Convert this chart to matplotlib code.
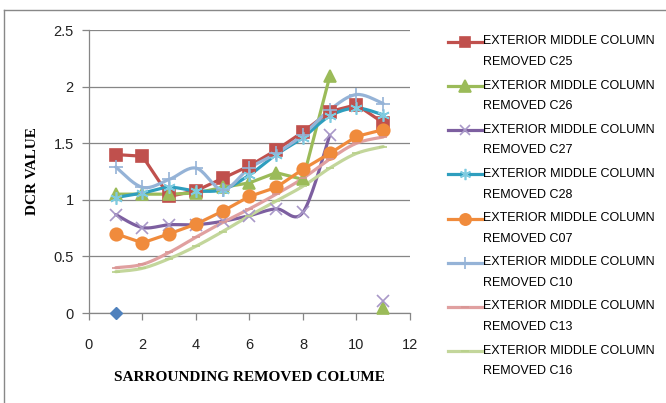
import numpy as np
import matplotlib
matplotlib.use('Agg')
from matplotlib import pyplot as plt
from matplotlib.lines import Line2D
from matplotlib.legend_handler import HandlerLine2D

# data
x = [1, 2, 3, 4, 5, 6, 7, 8, 9, 10, 11]
nan = np.nan
c25 = [1.40, 1.385, 1.03, 1.08, 1.19, 1.30, 1.44, 1.60, 1.78, 1.84, 1.68]
c26 = [1.05, 1.05, 1.05, 1.06, 1.11, 1.15, 1.24, 1.18, 2.09, nan, 0.04]
c27 = [0.87, 0.755, 0.78, 0.78, 0.81, 0.86, 0.92, 0.89, 1.57, nan, 0.11]
c28 = [1.02, 1.06, 1.11, 1.08, 1.09, 1.22, 1.40, 1.55, 1.74, 1.81, 1.75]
c07 = [0.70, 0.62, 0.70, 0.785, 0.90, 1.03, 1.11, 1.27, 1.41, 1.56, 1.62]
c10 = [1.29, 1.11, 1.18, 1.28, 1.09, 1.28, 1.41, 1.575, 1.795, 1.93, 1.85]
c13 = [0.40, 0.43, 0.535, 0.67, 0.80, 0.92, 1.05, 1.19, 1.36, 1.50, 1.555]
c16 = [0.365, 0.395, 0.48, 0.59, 0.72, 0.86, 0.99, 1.12, 1.28, 1.41, 1.47]
first_x = [1]
first_y = [0]

labels = ['EXTERIOR MIDDLE COLUMN\nREMOVED C25', 'EXTERIOR MIDDLE COLUMN\nREMOVED C26',
          'EXTERIOR MIDDLE COLUMN\nREMOVED C27', 'EXTERIOR MIDDLE COLUMN\nREMOVED C28',
          'EXTERIOR MIDDLE COLUMN\nREMOVED C07', 'EXTERIOR MIDDLE COLUMN\nREMOVED C10',
          'EXTERIOR MIDDLE COLUMN\nREMOVED C13', 'EXTERIOR MIDDLE COLUMN\nREMOVED C16']


def smooth(xs, ys, n=20):
    # excel-like smoothed line (catmull-rom through the points), split at gaps
    xs = np.asarray(xs, float)
    ys = np.asarray(ys, float)
    out_x, out_y = [], []
    ok = ~np.isnan(ys)
    idx = np.where(ok)[0]
    runs = np.split(idx, np.where(np.diff(idx) != 1)[0] + 1)
    for r in runs:
        px, py = xs[r], ys[r]
        if len(r) < 2:
            continue
        for i in range(len(r) - 1):
            p0 = (px[max(i - 1, 0)], py[max(i - 1, 0)])
            p1 = (px[i], py[i])
            p2 = (px[i + 1], py[i + 1])
            p3 = (px[min(i + 2, len(r) - 1)], py[min(i + 2, len(r) - 1)])
            t = np.linspace(0, 1, n)
            for k in range(2):
                a = [p0[k], p1[k], p2[k], p3[k]]
                v = 0.5 * ((2 * a[1]) + (-a[0] + a[2]) * t +
                           (2 * a[0] - 5 * a[1] + 4 * a[2] - a[3]) * t ** 2 +
                           (-a[0] + 3 * a[1] - 3 * a[2] + a[3]) * t ** 3)
                (out_x if k == 0 else out_y).extend(v)
        out_x.append(nan)
        out_y.append(nan)
    return out_x, out_y


class FirstLineHandler(HandlerLine2D):
    # put the legend key level with the first line of a two-line label
    def create_artists(self, legend, orig_handle, xdescent, ydescent, width, height,
                       fontsize, trans):
        arts = super().create_artists(legend, orig_handle, xdescent, ydescent, width,
                                      height, fontsize, trans)
        for a in arts:
            a.set_ydata(np.asarray(a.get_ydata(), float) + 7.2)
        return arts


fig = plt.figure(figsize=(6.66, 4.03), dpi=100)
ax = fig.add_axes([0.1336, 0.2233, 0.482, 0.7022])

series = [
    (c25, '#C0504D', 's', 8.5, '#C0504D', False),
    (c26, '#9BBB59', '^', 9, '#9BBB59', False),
    (c27, '#7D5FA0', 'x', 8, '#A898C8', True),
    (c28, '#2E9EBE', (6, 2, 0), 9, '#7FCBE0', True),
    (c07, '#F08B3C', 'o', 9, '#F08B3C', False),
    (c10, '#95B3D7', '+', 10, '#95B3D7', True),
    (c13, '#E0A0A0', '_', 6, '#D99694', True),
    (c16, '#C3D69B', '_', 6, '#B8D08A', True),
]

lw = 2.3
handles = []
for ys, col, mk, ms, mcol, sm in series:
    if sm:
        sx, sy = smooth(x, ys)
        ax.plot(sx, sy, color=col, lw=lw, solid_capstyle='round', zorder=3)
    else:
        ax.plot(x, ys, color=col, lw=lw, zorder=3)
    ax.plot(x, ys, lw=0, marker=mk, ms=ms, color=mcol, mec=mcol, mew=1.2, zorder=4,
            clip_on=False)
    handles.append(Line2D([], [], color=col, lw=lw, marker=mk, ms=ms * 0.9, mfc=mcol,
                          mec=mcol, mew=1.2))

ax.plot(first_x, first_y, lw=0, marker='D', ms=6.5, color='#4F81BD', zorder=4, clip_on=False)

ax.set_xlim(0, 12)
ax.set_ylim(0, 2.5)
ax.set_xticks(range(0, 13, 2))
ax.set_yticks([0, 0.5, 1, 1.5, 2, 2.5])
ax.set_yticklabels(['0', '0.5', '1', '1.5', '2', '2.5'])
ax.yaxis.grid(True, color='#868686', lw=0.9)
ax.set_axisbelow(True)
for s in ['top', 'right']:
    ax.spines[s].set_visible(False)
for s in ['left', 'bottom']:
    ax.spines[s].set_color('#868686')
    ax.spines[s].set_linewidth(0.9)
ax.tick_params(axis='both', colors='#868686', labelcolor='#222222', labelsize=10.5,
               length=5, width=0.9, direction='out')
ax.tick_params(axis='x', pad=13)
ax.tick_params(axis='y', pad=6)
for t in ax.get_xticklabels() + ax.get_yticklabels():
    t.set_fontfamily('Liberation Sans')

ax.set_xlabel('SARROUNDING REMOVED COLUME', family='Liberation Serif', weight='bold',
              size=11, labelpad=14)
ax.set_ylabel('DCR VALUE', family='Liberation Serif', weight='bold', size=11, labelpad=10)

leg = fig.legend(handles, labels, loc='upper left', bbox_to_anchor=(0.656, 0.94),
                 frameon=False, prop={'family': 'Liberation Sans', 'size': 9.0},
                 handlelength=2.7, handletextpad=0.12, labelspacing=0.93,
                 handler_map={Line2D: FirstLineHandler()})
for t in leg.get_texts():
    t.set_linespacing(1.95)

# outer chart border
fig.add_artist(Line2D([0.006, 0.006], [0, 0.975], color='#888888', lw=1))
fig.add_artist(Line2D([0.006, 1.0], [0.975, 0.975], color='#888888', lw=1))

fig.savefig('out.png', dpi=100)
